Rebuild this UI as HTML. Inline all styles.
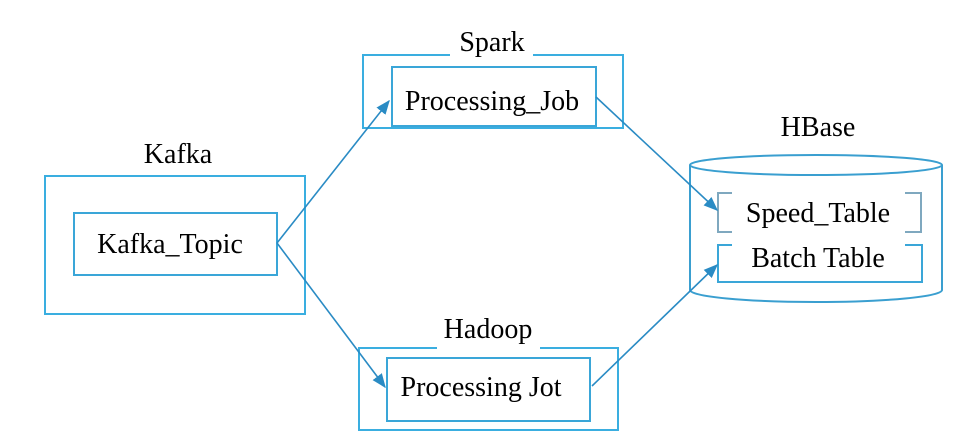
<!DOCTYPE html>
<html><head><style>html,body{margin:0;padding:0;background:#fff}svg{display:block}</style></head>
<body>
<svg width="962" height="444" viewBox="0 0 962 444" xmlns="http://www.w3.org/2000/svg" font-family="Liberation Serif, serif" font-size="28" fill="#000">
<defs><marker id="a" viewBox="0 0 10 10" refX="9" refY="5" markerWidth="9" markerHeight="9" orient="auto"><path d="M0,1 L10,5 L0,9 z" fill="#2a8bc4"/></marker></defs>
<g fill="none" stroke-width="2">
<!-- Kafka -->
<rect x="45" y="176" width="260" height="138" stroke="#3aaee0"/>
<rect x="74" y="213" width="203" height="62" stroke="#3aa6d8"/>
<!-- Spark -->
<path d="M450,55 H363 V128 H623 V55 H533" stroke="#3aaee0"/>
<rect x="392" y="67" width="204" height="59" stroke="#3aa6d8"/>
<!-- Hadoop -->
<path d="M437,348 H359 V430 H618 V348 H540" stroke="#3aaee0"/>
<rect x="387" y="358" width="203" height="63" stroke="#3aa6d8"/>
<!-- HBase -->
<path d="M690,165 V290 A126,12 0 0 0 942,290 V165" stroke="#3a9fd0"/>
<ellipse cx="816" cy="165" rx="126" ry="10" stroke="#3a9fd0"/>
<path d="M732,193 H718 V232 H732 M905,193 H921 V232 H905" stroke="#7fa8bf"/>
<path d="M732,245 H718 V282 H922 V245 H905" stroke="#3aa6d8"/>
<!-- arrows -->
<g stroke="#2a8bc4" stroke-width="1.6">
<line x1="277" y1="243" x2="389" y2="101" marker-end="url(#a)"/>
<line x1="277" y1="243" x2="385" y2="387" marker-end="url(#a)"/>
<line x1="596" y1="97" x2="717" y2="210" marker-end="url(#a)"/>
<line x1="592" y1="386" x2="717" y2="265" marker-end="url(#a)"/>
</g>
</g>
<g text-anchor="middle">
<text x="178" y="163">Kafka</text>
<text x="170" y="253">Kafka_Topic</text>
<text x="492" y="51">Spark</text>
<text x="492" y="110">Processing_Job</text>
<text x="488" y="338">Hadoop</text>
<text x="481" y="396">Processing Jot</text>
<text x="818" y="136">HBase</text>
<text x="818" y="222">Speed_Table</text>
<text x="818" y="267">Batch Table</text>
</g>
</svg>
</body></html>
